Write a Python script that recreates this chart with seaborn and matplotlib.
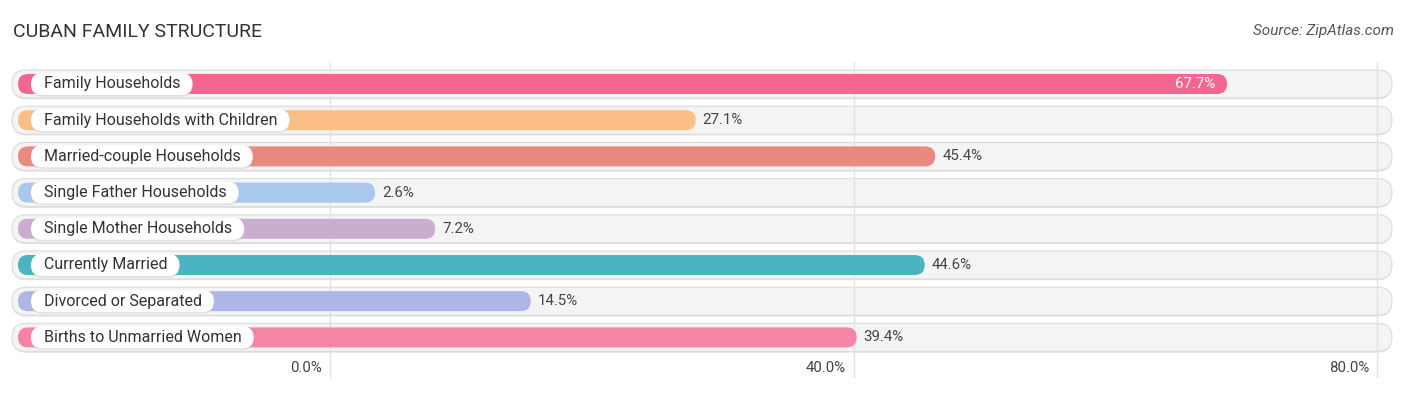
import matplotlib
matplotlib.use('Agg')
import matplotlib.pyplot as plt
import seaborn as sns
import pandas as pd
from matplotlib.patches import FancyBboxPatch

categories = [
    'Family Households',
    'Family Households with Children',
    'Married-couple Households',
    'Single Father Households',
    'Single Mother Households',
    'Currently Married',
    'Divorced or Separated',
    'Births to Unmarried Women',
]
values = [67.7, 27.1, 45.4, 2.6, 7.2, 44.6, 14.5, 39.4]
colors = ['#F2668F', '#FBBE85', '#E88A80', '#A9C8EC',
          '#C9AED0', '#4BB3C2', '#AEB6E8', '#F584A5']
tick_values = [0, 40, 80]
tick_labels = ['0.0%', '40.0%', '80.0%']

# pixel layout
W, H = 1406, 395
ZERO_PX = 330
PX_X = (1377 - 330) / 80   # pixels per percent
ROW0_PX = 84
ROW_PX = 36.2


def px(n):
    # horizontal pixel offset -> data units
    return n / PX_X


def py(n):
    # vertical pixel offset -> data units
    return n / ROW_PX


sns.set_theme(style='white')
plt.rcParams['font.family'] = ['Roboto', 'DejaVu Sans']

fig = plt.figure(figsize=(W / 100, H / 100), dpi=100)
ax = fig.add_axes([0, 0, 1, 1])
df = pd.DataFrame({'category': categories, 'value': values})
sns.barplot(data=df, x='value', y='category', hue='category', palette=colors,
            saturation=1, legend=False, ax=ax, orient='h')
ax.set_xlim(-px(ZERO_PX), px(W - ZERO_PX))
ax.set_ylim(py(H - ROW0_PX), -py(ROW0_PX))
ax.axis('off')

aspect = PX_X / ROW_PX

# replace seaborn rectangles with rounded pills
bars = list(ax.patches)
rows = []
for bar in bars:
    yc = bar.get_y() + bar.get_height() / 2
    rows.append((int(round(yc)), bar.get_width(), bar.get_facecolor()))
    bar.remove()


def pill(x0, x1, yc, h_px, r_px, **kw):
    h = py(h_px)
    p = FancyBboxPatch((x0, yc - h / 2), x1 - x0, h,
                       boxstyle=f'round,pad=0,rounding_size={px(r_px)}',
                       mutation_aspect=aspect, **kw)
    ax.add_patch(p)
    return p


# gridlines
ax.vlines(tick_values, -py(ROW0_PX - 62), py(378 - ROW0_PX), color='#e2e2e2',
          lw=1, zorder=1.5)

renderer = fig.canvas.get_renderer()
for i, val, col in sorted(rows):
    # background track
    pill(-px(ZERO_PX - 12), px(1392 - ZERO_PX), i + py(0.8), 29, 14.5,
         facecolor='#e2e2e2', edgecolor='none', zorder=0.9)
    pill(-px(ZERO_PX - 12), px(1392 - ZERO_PX), i, 28, 14,
         facecolor='#f4f4f4', edgecolor='#dcdcdc', lw=0.8, zorder=1)
    # value bar
    pill(-px(ZERO_PX - 18), val + px(11), i, 20, 10,
         facecolor=col, edgecolor='none', zorder=2)
    # label pill
    t = ax.text(-px(ZERO_PX - 44), i, categories[i], fontsize=11.5, color='#333333',
                ha='left', va='center', zorder=4)
    bb = t.get_window_extent(renderer)
    tx1 = bb.x1 - ZERO_PX
    pill(-px(ZERO_PX - 31), px(tx1 + 12), i + py(1.5), 22, 11,
         facecolor='#cccccc', edgecolor='none', alpha=0.5, zorder=2.5)
    pill(-px(ZERO_PX - 31), px(tx1 + 12), i, 22, 11,
         facecolor='white', edgecolor='none', zorder=3)
    # value label
    if val > 60:
        ax.text(val + px(-1), i, f'{val:.1f}%', fontsize=10.8, color='white',
                ha='right', va='center', zorder=4)
    else:
        ax.text(val + px(18), i, f'{val:.1f}%', fontsize=10.8, color='#444444',
                ha='left', va='center', zorder=4)

# x tick labels
for tv, tl in zip(tick_values, tick_labels):
    ax.text(tv - px(8), py(368 - ROW0_PX), tl, fontsize=10.8, color='#444444',
            ha='right', va='center')

fig.text(13 / W, 1 - 32 / H, 'CUBAN FAMILY STRUCTURE', fontsize=14,
         color='#333333', ha='left', va='center')
fig.text(1394 / W, 1 - 31 / H, 'Source: ZipAtlas.com', fontsize=11,
         color='#555555', ha='right', va='center', style='italic')

fig.savefig('out.png', dpi=100)
